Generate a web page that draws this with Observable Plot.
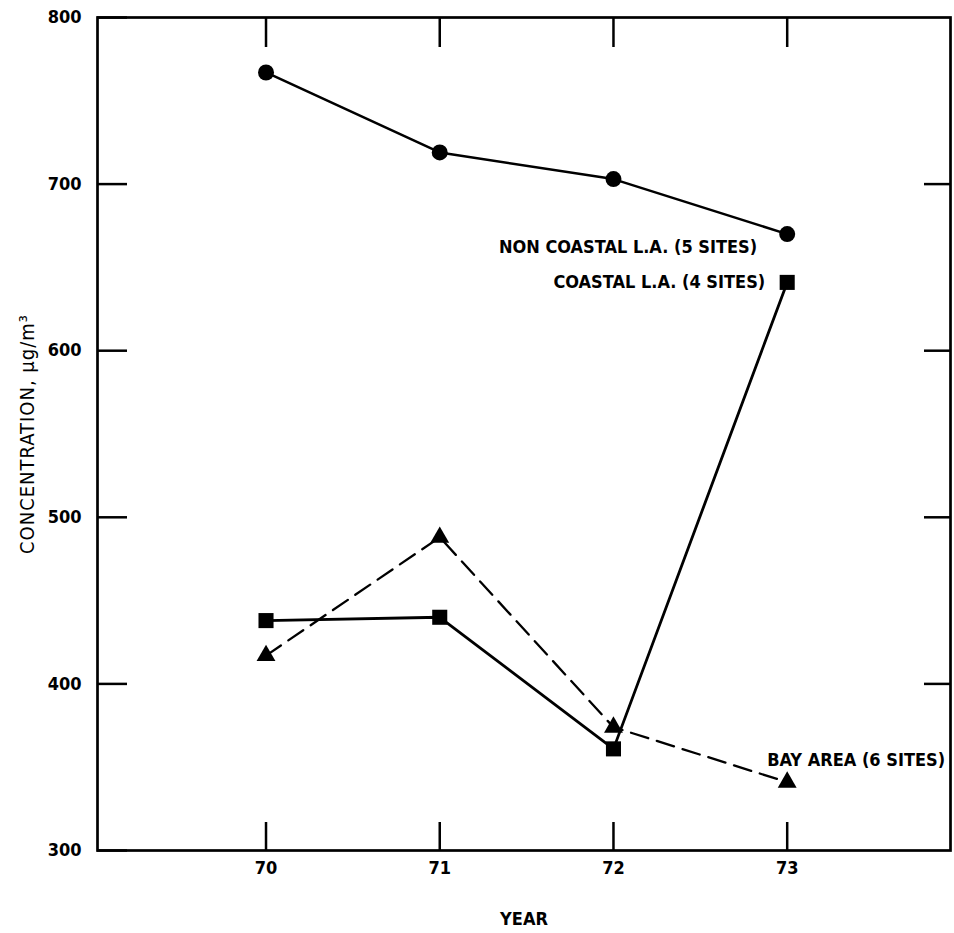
<!DOCTYPE html>
<html><head><meta charset="utf-8">
<script src="https://cdn.jsdelivr.net/npm/d3@7"></script>
<script src="https://cdn.jsdelivr.net/npm/@observablehq/plot@0.6"></script>
<style>body{margin:0;background:#fff}
g[aria-label="y-axis label"] text{font-weight:normal;font-size:20px;letter-spacing:1px}
g[aria-label="x-axis label"] text{font-size:18px}
g[aria-label="y-axis tick label"] text, g[aria-label="x-axis tick label"] text{font-size:18px}
</style>
</head><body><div id="chart"></div>
<script>
const years = [70, 71, 72, 73];
const nonCoastal = [767, 719, 703, 670];
const coastal = [438, 440, 361, 641];
const bayArea = [417, 488, 374, 341];
const seriesNames = ["NON COASTAL L.A. (5 SITES)", "COASTAL L.A. (4 SITES)", "BAY AREA (6 SITES)"];
const yTicks = [300, 400, 500, 600, 700, 800];
const rightTicks = [400, 500, 600, 700];
const xTicks = [70, 71, 72, 73];

const seriesValues = [nonCoastal, coastal, bayArea];
const symbols = ["circle", "square", "triangle"];
const rows = seriesValues.flatMap((vals, i) => years.map((yr, j) => ({series: seriesNames[i], year: yr, value: vals[j]})));
const nc = rows.filter(d => d.series === seriesNames[0]);
const co = rows.filter(d => d.series === seriesNames[1]);
const ba = rows.filter(d => d.series === seriesNames[2]);
const last = arr => [arr[arr.length - 1]];

const font = "'Liberation Sans Narrow', 'DejaVu Sans Condensed', 'Arial Narrow', sans-serif";

const chart = Plot.plot({
  width: 954,
  height: 933,
  marginLeft: 97,
  marginRight: 4,
  marginTop: 17,
  marginBottom: 83,
  style: {fontFamily: font, fontSize: "16px", fontWeight: "bold", background: "#fff", color: "#000"},
  x: {domain: [69.03, 73.94], axis: null},
  y: {domain: [300, 800], axis: null},
  marks: [
    Plot.frame({stroke: "#000", strokeWidth: 2.7}),
    Plot.axisY(yTicks, {anchor: "left", tickSize: -30, strokeWidth: 2.5, fill: "none", label: null}),
    Plot.axisY(rightTicks, {anchor: "right", tickSize: -27, strokeWidth: 2.5, fill: "none", label: null}),
    Plot.axisX(xTicks, {anchor: "top", tickSize: -29, strokeWidth: 2.5, fill: "none", label: null}),
    Plot.axisX(xTicks, {anchor: "bottom", tickSize: -28, strokeWidth: 2.5, fill: "none", label: null}),
    Plot.axisY(yTicks, {anchor: "left", tickSize: 0, tickPadding: 16, tickFormat: d => String(d), label: "CONCENTRATION, μg/m³", labelAnchor: "center", labelArrow: "none", labelOffset: 78}),
    Plot.axisX(xTicks, {anchor: "bottom", tickSize: 0, tickPadding: 11, tickFormat: d => String(d), label: "YEAR", labelAnchor: "center", labelArrow: "none", labelOffset: 74}),
    Plot.line(nc, {x: "year", y: "value", stroke: "#000", strokeWidth: 2.5}),
    Plot.line(co, {x: "year", y: "value", stroke: "#000", strokeWidth: 2.8}),
    Plot.line(ba, {x: "year", y: "value", stroke: "#000", strokeWidth: 2.3, strokeDasharray: "18,9"}),
    Plot.dot(nc, {x: "year", y: "value", symbol: () => symbols[0], r: 8, fill: "#000", stroke: "none"}),
    Plot.dot(co, {x: "year", y: "value", symbol: () => symbols[1], r: 8.5, fill: "#000", stroke: "none"}),
    Plot.dot(ba, {x: "year", y: "value", symbol: () => symbols[2], r: 7, fill: "#000", stroke: "none"}),
    Plot.text(last(nc), {x: "year", y: "value", text: "series", textAnchor: "end", dx: -30, dy: 13, fontSize: 18}),
    Plot.text(last(co), {x: "year", y: "value", text: "series", textAnchor: "end", dx: -22, dy: 0, fontSize: 18}),
    Plot.text(last(ba), {x: "year", y: "value", text: "series", textAnchor: "start", dx: -20, dy: -22, fontSize: 18})
  ]
});
document.getElementById("chart").appendChild(chart);
</script>
</body></html>
